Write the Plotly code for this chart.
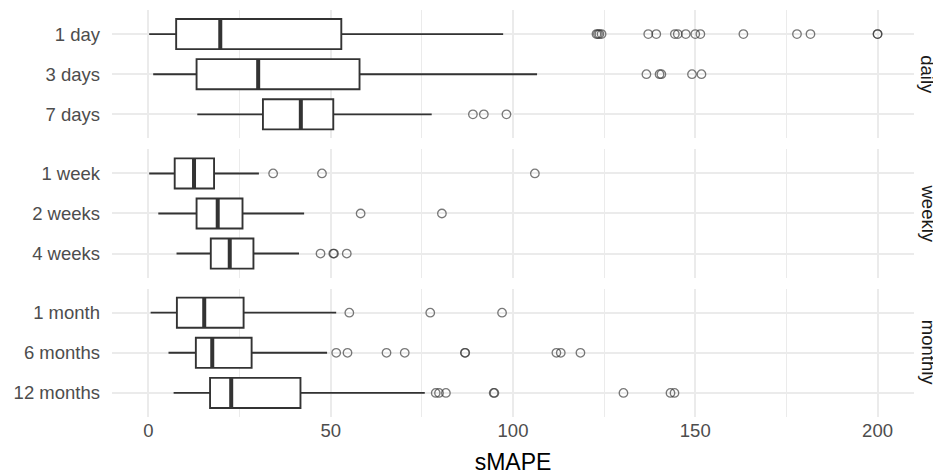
import plotly.graph_objects as go
from plotly.subplots import make_subplots

# ---- data ----
facets = ["daily", "weekly", "monthly"]
daily_labels = ["1 day", "3 days", "7 days"]
weekly_labels = ["1 week", "2 weeks", "4 weeks"]
monthly_labels = ["1 month", "6 months", "12 months"]

daily_lower = [0.2, 1.3, 13.4]
daily_q1 = [7.6, 13.2, 31.4]
daily_median = [19.7, 30.1, 41.8]
daily_q3 = [52.9, 57.9, 50.7]
daily_upper = [97.3, 106.6, 77.7]
daily_outliers = [
    [122.9, 123.3, 123.7, 124.3, 137.1, 139.3, 144.4, 145.2, 147.4, 150.0, 151.4, 163.2, 177.9, 181.6, 200.0, 200.0],
    [136.6, 140.2, 140.7, 149.1, 151.7],
    [89.0, 92.0, 98.2],
]

weekly_lower = [0.2, 2.7, 7.7]
weekly_q1 = [7.2, 13.2, 17.1]
weekly_median = [12.5, 19.0, 22.3]
weekly_q3 = [18.0, 25.8, 28.8]
weekly_upper = [30.3, 42.7, 41.3]
weekly_outliers = [
    [34.2, 47.6, 106.0],
    [58.2, 80.5],
    [47.2, 50.7, 50.9, 54.4],
]

monthly_lower = [0.6, 5.5, 6.9]
monthly_q1 = [7.8, 13.0, 16.9]
monthly_median = [15.3, 17.5, 22.7]
monthly_q3 = [26.1, 28.3, 41.7]
monthly_upper = [51.5, 49.0, 75.8]
monthly_outliers = [
    [55.1, 77.3, 97.0],
    [51.5, 54.6, 65.3, 70.3, 86.8, 86.9, 111.9, 113.1, 118.5],
    [78.8, 79.7, 81.6, 94.7, 94.9, 130.3, 143.2, 144.3],
]

x_ticks = [0, 50, 100, 150, 200]

groups = [
    (daily_labels, daily_lower, daily_q1, daily_median, daily_q3, daily_upper, daily_outliers),
    (weekly_labels, weekly_lower, weekly_q1, weekly_median, weekly_q3, weekly_upper, weekly_outliers),
    (monthly_labels, monthly_lower, monthly_q1, monthly_median, monthly_q3, monthly_upper, monthly_outliers),
]

# ---- style ----
BOX_COLOR = "#333333"
GRID = "#EBEBEB"
FONT = "Liberation Sans, Arial, sans-serif"
BOX_W = 0.75
OUT_COLOR = "rgba(51,51,51,0.65)"

fig = make_subplots(rows=3, cols=1, shared_xaxes=True, vertical_spacing=0.03)

for r, (labels, lo, q1, med, q3, up, outs) in enumerate(groups, start=1):
    pos = list(range(len(labels)))
    fig.add_trace(go.Box(
        y=pos, q1=q1, median=med, q3=q3, lowerfence=lo, upperfence=up,
        orientation="h", width=BOX_W, whiskerwidth=0,
        fillcolor="white", line=dict(color=BOX_COLOR, width=1.9),
        boxpoints=False, showlegend=False, hoverinfo="x",
    ), row=r, col=1)
    # thicker median line (ggplot style)
    mx, my = [], []
    for i, m in enumerate(med):
        mx += [m, m, None]
        my += [i - BOX_W / 2, i + BOX_W / 2, None]
    fig.add_trace(go.Scatter(
        x=mx, y=my, mode="lines", line=dict(color=BOX_COLOR, width=4),
        showlegend=False, hoverinfo="skip",
    ), row=r, col=1)
    # outliers
    ox, oy = [], []
    for i, vals in enumerate(outs):
        ox += vals
        oy += [i] * len(vals)
    fig.add_trace(go.Scatter(
        x=ox, y=oy, mode="markers",
        marker=dict(symbol="circle-open", size=8.5, color=OUT_COLOR,
                    line=dict(width=1.3, color=OUT_COLOR)),
        showlegend=False,
    ), row=r, col=1)

    fig.update_yaxes(
        row=r, col=1,
        tickmode="array", tickvals=pos, ticktext=labels,
        range=[len(labels) - 0.4, -0.6],
        showgrid=True, gridcolor=GRID, gridwidth=1.8,
        zeroline=False, showline=False, ticks="",
        tickfont=dict(size=18.5, color="#4D4D4D", family=FONT),
        ticklabelstandoff=11,
    )

domains = [[0.6845, 1.0], [0.3425, 0.6575], [0.0, 0.3155]]
for r, d in enumerate(domains, start=1):
    fig.update_yaxes(domain=d, row=r, col=1)

fig.update_xaxes(
    range=[-10, 210], tickvals=x_ticks,
    showgrid=True, gridcolor=GRID, gridwidth=1.8,
    minor=dict(dtick=25, tick0=0, showgrid=True, gridcolor=GRID, gridwidth=0.9),
    zeroline=False, showline=False, ticks="",
    tickfont=dict(size=18.5, color="#4D4D4D", family=FONT),
)
fig.update_xaxes(row=3, col=1, ticklabelstandoff=0,
                 title=dict(text="sMAPE", font=dict(size=23, color="black", family=FONT), standoff=15))

for r, name in enumerate(facets):
    d = domains[r]
    fig.add_annotation(
        x=1, xref="paper", xshift=14, xanchor="center",
        y=(d[0] + d[1]) / 2, yref="paper", yanchor="middle",
        text=name, textangle=90, showarrow=False,
        font=dict(size=18.5, color="#1A1A1A", family=FONT),
    )

# page has an 8px body margin: size the figure to fit the 941x475 window
fig.update_layout(
    width=933, height=467,
    margin=dict(l=104, r=27, t=2, b=58),
    plot_bgcolor="white", paper_bgcolor="white",
    font=dict(family=FONT),
)

fig.write_html("out.html")
